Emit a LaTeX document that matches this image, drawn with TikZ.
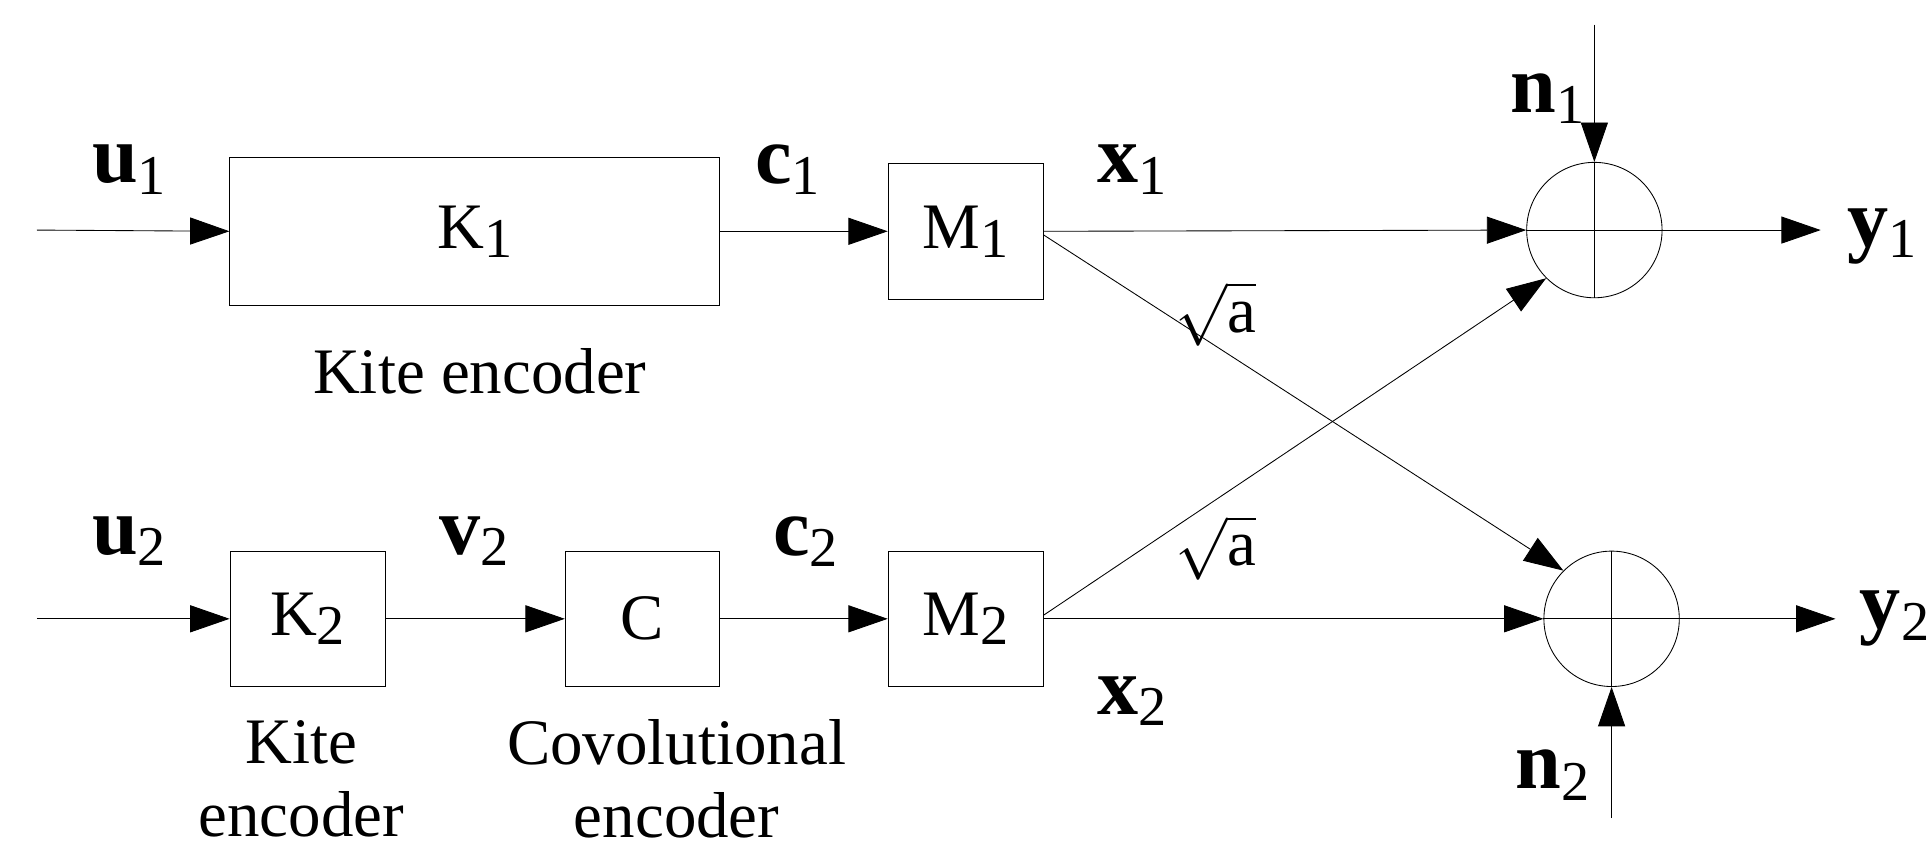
\documentclass[tikz,border=0pt]{standalone}
\usepackage{fontspec}
\setmainfont{Liberation Serif}
\usetikzlibrary{arrows.meta,positioning}

\tikzset{
  blk/.style={draw,very thin,inner sep=0pt,font=\fontsize{15}{17}\selectfont},
  sum/.style={draw,very thin,circle,minimum size=1.1cm,inner sep=0pt},
  lbl/.style={font=\fontsize{19}{21}\selectfont\bfseries},
  txt/.style={font=\fontsize{15}{17}\selectfont,align=center},
  sig/.style={very thin,-{Triangle[length=0.32cm,width=0.22cm]}}
}
\newcommand{\sub}[1]{\raisebox{-0.3ex}{\mdseries\fontsize{13}{15}\selectfont #1}}

\begin{document}
\begin{tikzpicture}[x=0.01cm,y=-0.01cm]
\useasboundingbox (0,0) rectangle (1568,699);
% upper branch
\coordinate (in1) at (30,187);
\node[blk,minimum width=3.98cm,minimum height=1.2cm] (K1) at (386,188) {K\sub{1}};
\node[blk,minimum width=1.26cm,minimum height=1.1cm] (M1) at (785,188) {M\sub{1}};
\node[sum] (S1) at (1296,187) {};
\draw[very thin] (S1.north) -- (S1.south) (S1.west) -- (S1.east);
\coordinate (n1) at (1296,20);
\coordinate (out1) at (1480,187);
\node[txt] at (390,302) {Kite encoder};
\draw[sig] (in1) -- (K1.west);
\draw[sig] (K1.east) -- (M1.west);
\draw[sig] (M1.east) -- (S1.west);
\draw[sig] (n1) -- (S1.north);
\draw[sig] (S1.east) -- (out1);
\node[lbl] at (105,138) {u\sub{1}};
\node[lbl] at (640,138) {c\sub{1}};
\node[lbl] at (920,138) {x\sub{1}};
\node[lbl] at (1258,80) {n\sub{1}};
\node[lbl] at (1530,192) {y\sub{1}};
% lower branch
\coordinate (in2) at (30,503);
\node[blk,minimum width=1.26cm,minimum height=1.1cm] (K2) at (250,503) {K\sub{2}};
\node[blk,minimum width=1.25cm,minimum height=1.1cm] (C) at (522,503) {C};
\node[blk,minimum width=1.26cm,minimum height=1.1cm] (M2) at (785,503) {M\sub{2}};
\node[sum] (S2) at (1310,503) {};
\draw[very thin] (S2.north) -- (S2.south) (S2.west) -- (S2.east);
\coordinate (n2) at (1310,665);
\coordinate (out2) at (1492,503);
\node[txt] at (245,633) {Kite\\encoder};
\node[txt] at (550,633) {Covolutional\\encoder};
\draw[sig] (in2) -- (K2.west);
\draw[sig] (K2.east) -- (C.west);
\draw[sig] (C.east) -- (M2.west);
\draw[sig] (M2.east) -- (S2.west);
\draw[sig] (n2) -- (S2.south);
\draw[sig] (S2.east) -- (out2);
\node[lbl] at (105,440) {u\sub{2}};
\node[lbl] at (385,440) {v\sub{2}};
\node[lbl] at (655,440) {c\sub{2}};
\node[lbl] at (920,570) {x\sub{2}};
\node[lbl] at (1262,630) {n\sub{2}};
\node[lbl] at (1540,503) {y\sub{2}};
% cross links
\draw[sig] ([yshift=-0.03cm]M1.east) -- (S2.north west);
\draw[sig] ([yshift=0.03cm]M2.east) -- (S1.south west);
\node[txt] at (988,255) {$\sqrt{\textrm{a}}$};
\node[txt] at (988,445) {$\sqrt{\textrm{a}}$};
\end{tikzpicture}
\end{document}
